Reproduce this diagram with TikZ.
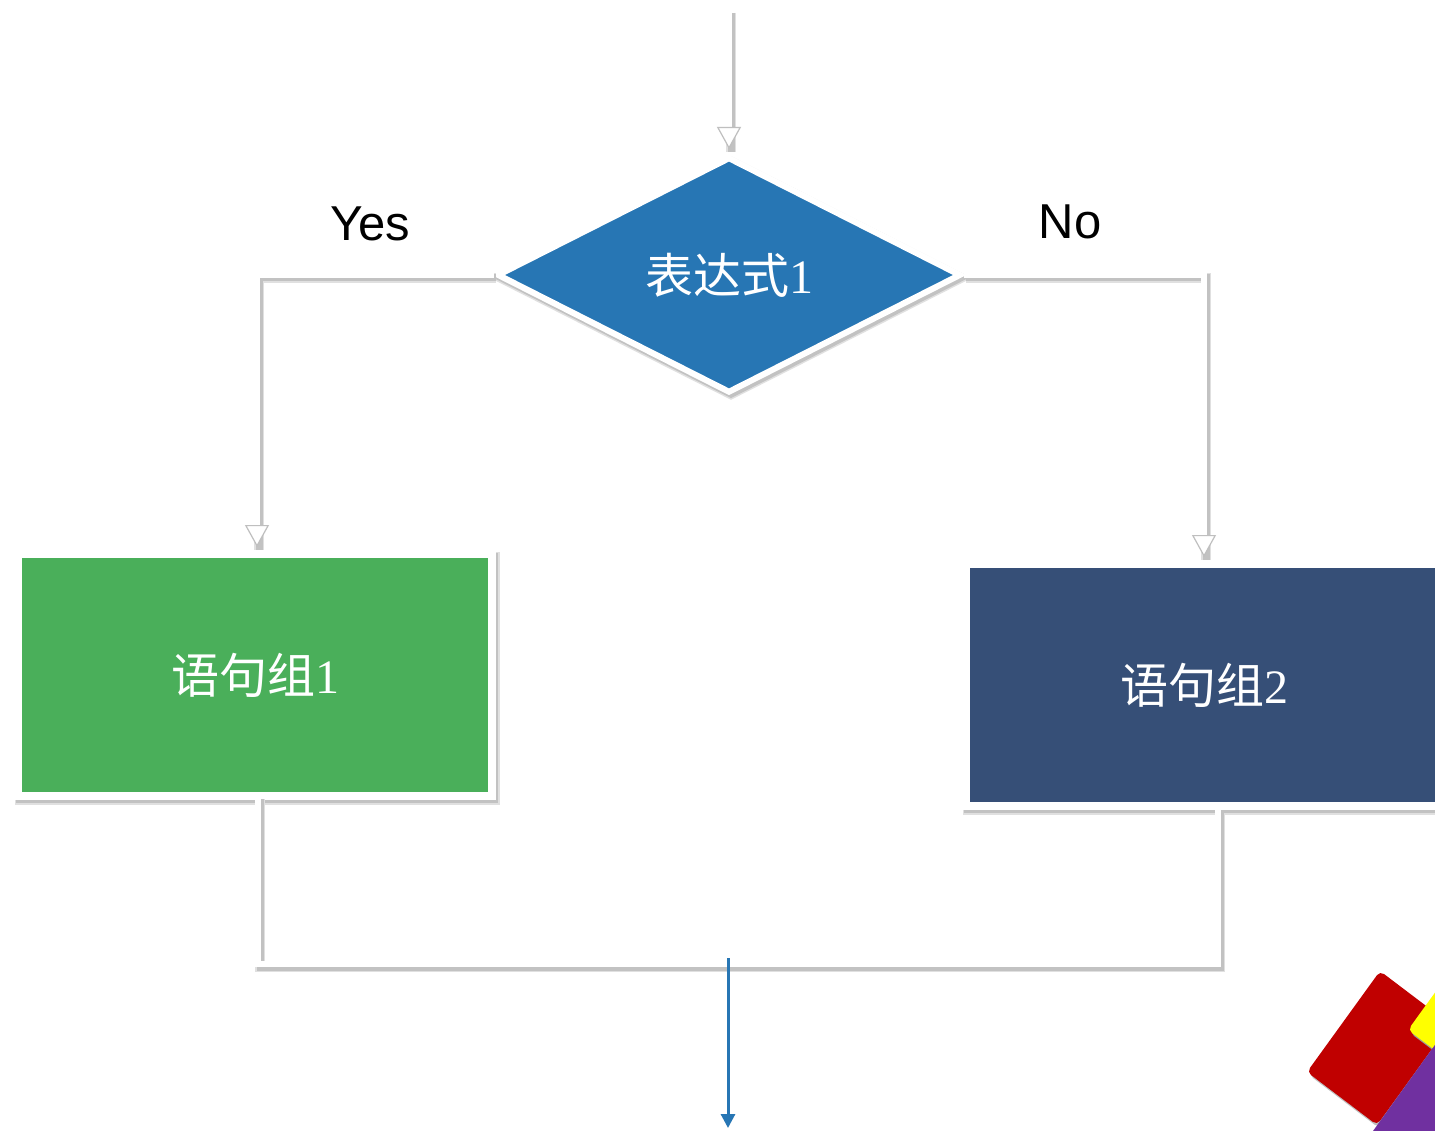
\documentclass[tikz,border=0pt]{standalone}
\usepackage{fontspec}
\setmainfont{Liberation Serif}
\newfontfamily\cjk{Noto Sans CJK SC}
\newfontfamily\lsans{Liberation Sans}
\usetikzlibrary{arrows.meta,shapes.geometric}
\definecolor{dblue}{RGB}{39,118,180}
\definecolor{sgreen}{RGB}{74,175,90}
\definecolor{snavy}{RGB}{54,79,119}
\definecolor{dred}{RGB}{192,0,0}
\definecolor{dyellow}{RGB}{255,255,0}
\definecolor{dpurple}{RGB}{112,48,160}
\begin{document}
\begin{tikzpicture}[x=1pt,y=-1pt,
  shadowed/.style={preaction={draw=black!12, line width=#1+3pt, arrows=-,
      transform canvas={xshift=2pt,yshift=-3pt}},
    preaction={draw=black!24, line width=#1, arrows=-,
      transform canvas={xshift=2pt,yshift=-3pt}}},
  wline/.style={draw=white, line width=6pt, shadowed=7pt},
  warrow/.style={wline,
    -{Triangle[width=24pt,length=22pt,fill=white,color=black!25,line width=1.2pt]}},
  box/.style={draw=white, line width=8pt, inner sep=0pt, shadowed=8pt,
    minimum width=474pt, minimum height=242pt, text=white},
  lbl/.style={font=\lsans\fontsize{49}{52}\selectfont, text=black},
  ctext/.style={font=\fontsize{48}{52}\selectfont}
]
\useasboundingbox (0,0) rectangle (1435,1131);
\fill[white] (0,0) rectangle (1435,1131);

% nodes
\node[diamond, aspect=1.96, draw=white, line width=6pt, fill=dblue, inner sep=0pt,
  minimum width=464pt, minimum height=236pt, text=white, ctext, shadowed=6pt]
  (d) at (729,275) {{\cjk 表达式}1};
\node[box, fill=sgreen, ctext] (g) at (255,675) {{\cjk 语句组}1};
\node[box, fill=snavy, minimum width=476pt, ctext] (n) at (1204,685) {{\cjk 语句组}2};

\node[lbl] (yes) at (370,224) {Yes};
\node[lbl] (no) at (1070,222) {No};

% coordinates
\coordinate (top) at (729,10);
\coordinate (jr) at (1218,964);
\coordinate (mid) at (728,958);
\coordinate (out) at (728,1128);

% connectors
\draw[warrow, shorten >=5pt] (top) -- (d.north);
\draw[warrow, shorten >=3pt] (d.west) -| ([xshift=2pt]g.north);
\draw[warrow, shorten >=3pt] (d.east) -| (n.north);
\draw[wline] ([xshift=3pt,yshift=4pt]g.south) |- (jr) -- (jr |- n.south);
\draw[draw=dblue, line width=3pt, -{Triangle[width=14pt,length=14pt]}] (mid) -- (out);

% corner decoration
\begin{scope}
\clip (0,0) rectangle (1435,1131);
\fill[dred, rounded corners=5pt,
  preaction={fill=black!25, transform canvas={xshift=2pt,yshift=-3pt}}]
  (1380,971) -- (1450,1024) -- (1377,1125) -- (1307,1072) -- cycle;
\fill[dyellow, rounded corners=5pt,
  preaction={fill=black!40, transform canvas={xshift=2pt,yshift=-3pt}}]
  (1408,1030) -- (1452,969) -- (1520,1020) -- (1436,1051) -- cycle;
\fill[dpurple] (1373,1131) -- (1450,1024) -- (1460,1140) -- cycle;
\end{scope}
\end{tikzpicture}
\end{document}
